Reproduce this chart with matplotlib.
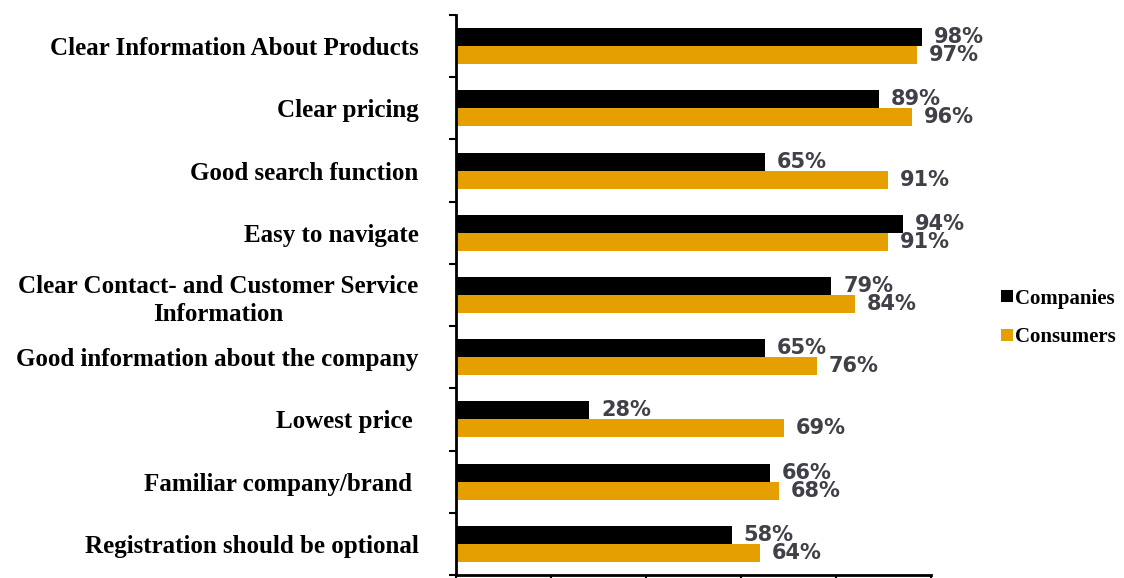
import numpy as np
import matplotlib.pyplot as plt
from matplotlib.patches import Patch

categories = [
    'Clear Information About Products',
    'Clear pricing',
    'Good search function',
    'Easy to navigate',
    'Clear Contact- and Customer Service\nInformation',
    'Good information about the company',
    'Lowest price ',
    'Familiar company/brand ',
    'Registration should be optional',
]
companies = [98, 89, 65, 94, 79, 65, 28, 66, 58]
consumers = [97, 96, 91, 91, 84, 76, 69, 68, 64]

black = '#000000'
orange = '#E5A000'
serif = 'Liberation Serif'

fig = plt.figure(figsize=(11.24, 5.78), dpi=100)
ax = fig.add_axes([0.4057, 0.0052, 0.4226, 0.9688])

y = np.arange(len(categories))
h = 0.29
ax.barh(y - h / 2, companies, height=h, color=black, label='Companies')
ax.barh(y + h / 2, consumers, height=h, color=orange, label='Consumers')

for yi, c, s in zip(y, companies, consumers):
    ax.annotate(f'{c}%', (c, yi - h / 2), xytext=(12, 0), textcoords='offset pixels',
                va='center', ha='left', fontsize=15, color='#404048', fontweight='bold')
    ax.annotate(f'{s}%', (s, yi + h / 2), xytext=(12, 0), textcoords='offset pixels',
                va='center', ha='left', fontsize=15, color='#404048', fontweight='bold')

ax.set_xlim(0, 100)
ax.set_ylim(len(categories) - 0.5, -0.5)
ax.set_xticks(np.arange(0, 101, 20))
ax.set_xticklabels([])
ax.set_yticks(y)
ax.set_yticklabels(categories, fontfamily=serif, fontweight='bold', fontsize=18)
for lbl in ax.get_yticklabels():
    lbl.set_multialignment('center')
    lbl.set_linespacing(1.3)
    lbl.set_va('center_baseline')
ax.set_yticks(np.arange(-0.5, len(categories)), minor=True)
ax.tick_params(axis='y', which='major', length=0, pad=27)
ax.tick_params(axis='y', which='minor', length=5, width=1.5, direction='out')
ax.tick_params(axis='x', length=5, width=1.5, direction='out')

for side in ['top', 'right']:
    ax.spines[side].set_visible(False)
ax.spines['left'].set_linewidth(2)
ax.spines['bottom'].set_linewidth(2)

handles = [Patch(facecolor=black, label='Companies'),
           Patch(facecolor=orange, label='Consumers')]
fig.legend(handles=handles, loc='center left', bbox_to_anchor=(0.874, 0.45),
           frameon=False, handlelength=0.55, handleheight=0.55, handletextpad=0.1,
           labelspacing=0.9, prop={'family': serif, 'weight': 'bold', 'size': 15})

plt.savefig('out.png', dpi=100)
